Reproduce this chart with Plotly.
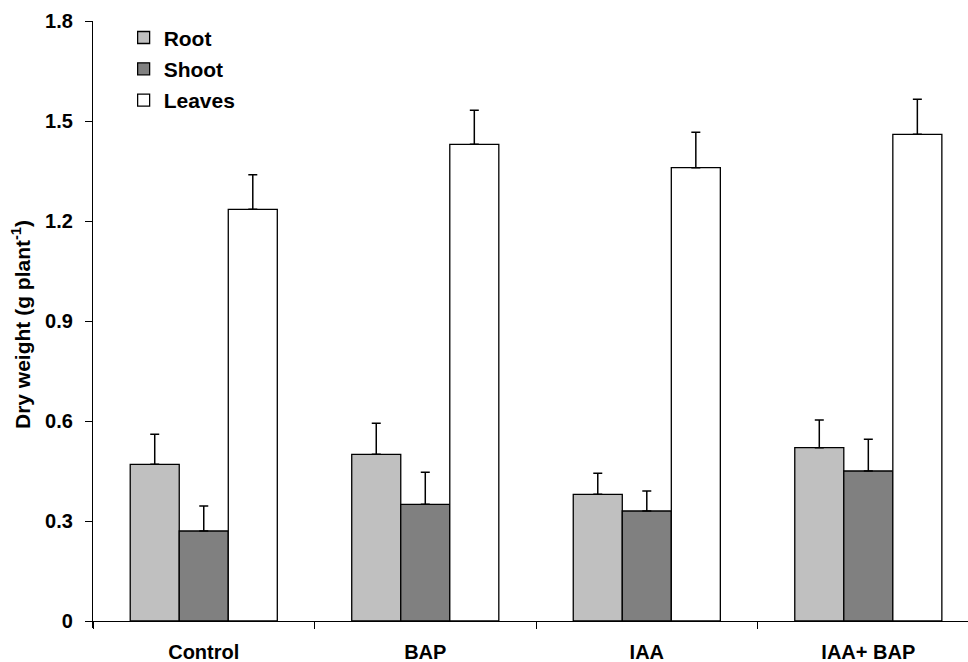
import plotly.graph_objects as go

categories = ["Control", "BAP", "IAA", "IAA+ BAP"]
root = [0.47, 0.50, 0.38, 0.52]
root_err = [0.09, 0.093, 0.063, 0.083]
shoot = [0.27, 0.35, 0.33, 0.45]
shoot_err = [0.075, 0.096, 0.06, 0.095]
leaves = [1.235, 1.43, 1.36, 1.46]
leaves_err = [0.104, 0.102, 0.106, 0.105]
y_ticks = [0, 0.3, 0.6, 0.9, 1.2, 1.5, 1.8]
y_tick_text = ["0", "0.3", "0.6", "0.9", "1.2", "1.5", "1.8"]

FONT = "Liberation Sans, Arial, sans-serif"

fig = go.Figure()
series = [("Root", root, root_err, "#c0c0c0"),
          ("Shoot", shoot, shoot_err, "#808080"),
          ("Leaves", leaves, leaves_err, "#ffffff")]
for name, vals, errs, col in series:
    fig.add_trace(go.Bar(
        name=name, x=categories, y=vals,
        marker=dict(color=col, line=dict(color="black", width=1.3)),
        error_y=dict(type="data", array=errs, arrayminus=[0] * len(errs),
                     symmetric=False, color="black", thickness=1.5, width=4.5),
        legendgroup=name,
    ))

fig.update_layout(
    width=968, height=662,
    margin=dict(l=93, r=0, t=21, b=34),
    plot_bgcolor="white", paper_bgcolor="white",
    barmode="group", bargap=0.336, bargroupgap=0,
    font=dict(family=FONT, size=19, color="black"),
    showlegend=True,
    legend=dict(x=0.035, y=1.006, xanchor="left", yanchor="top",
                bgcolor="rgba(0,0,0,0)", tracegroupgap=1,
                font=dict(family=FONT, size=21, color="black", weight="bold")),
    xaxis=dict(
        type="category", range=[-0.5, 3.45],
        showline=True, linecolor="black", linewidth=1.3,
        ticks="outside", tickson="boundaries", ticklen=7, tickcolor="black", tickwidth=1.3,
        tickfont=dict(family=FONT, size=20, color="black", weight="bold"),
        ticklabelstandoff=13,
        anchor="free", position=0.021 / 1.821,
        showgrid=False, zeroline=False, automargin=False,
    ),
    yaxis=dict(
        range=[-0.021, 1.8],
        tickvals=y_ticks, ticktext=y_tick_text,
        showline=True, linecolor="black", linewidth=1.3,
        ticks="outside", ticklen=7, tickcolor="black", tickwidth=1.3,
        ticklabelstandoff=8,
        tickfont=dict(family=FONT, size=20, color="black", weight="bold"),
        showgrid=False, zeroline=False, automargin=False,
        title=dict(text="Dry weight (g plant<sup>-1</sup>)",
                   font=dict(family=FONT, size=21, color="black", weight="bold"),
                   standoff=8),
    ),
)

fig.write_html("out.html")
